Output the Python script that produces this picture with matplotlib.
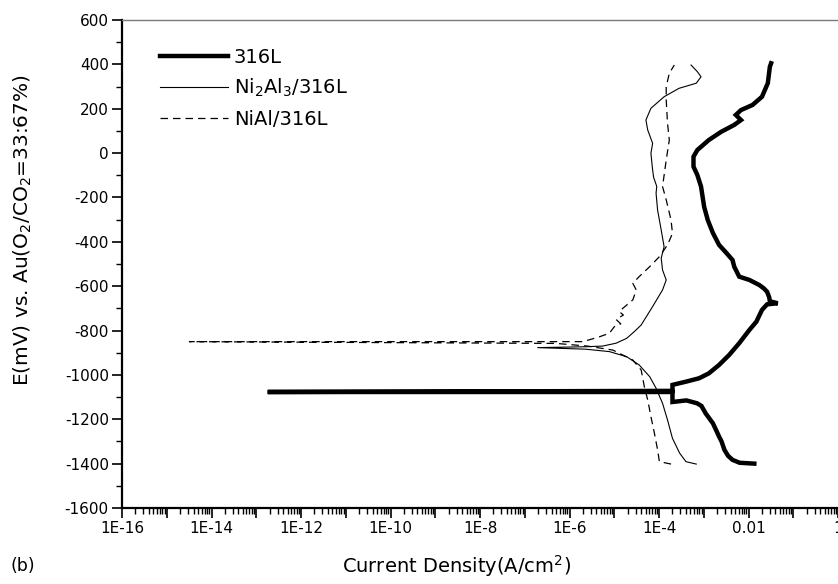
import numpy as np
import matplotlib
matplotlib.use("Agg")
import matplotlib.pyplot as plt
from matplotlib.ticker import FixedLocator, FuncFormatter, MultipleLocator, NullFormatter

plt.rcParams['font.family'] = ['DejaVu Sans']
plt.rcParams['axes.unicode_minus'] = False

# ---------------- data (E in mV, current density in A/cm2) ----------------
# 316L
E_316L = [-1400, -1396, -1383, -1365, -1338, -1300, -1278, -1250, -1218, -1173, -1140,
          -1128, -1115, -1122, -1077, -1077, -1072, -1045, -1030, -1015, -993, -955,
          -910, -857, -797, -760, -707, -682, -677, -668, -650, -625, -610, -595, -572,
          -557, -512, -482, -450, -414, -360, -302, -242, -151, -99, -61, -16, 14, 59,
          96, 127, 149, 172, 194, 217, 254, 315, 389, 405]
I_316L = [1.35e-2, 6.3e-3, 4.4e-3, 3.5e-3, 2.9e-3, 2.5e-3, 2.2e-3, 1.9e-3, 1.6e-3, 1.1e-3, 8.9e-4,
          7.1e-4, 4.1e-4, 2.0e-4, 2.0e-4, 1.8e-13, 2.0e-4, 2.0e-4, 4.1e-4, 7.9e-4, 1.3e-3, 2.2e-3,
          3.7e-3, 6.2e-3, 1.05e-2, 1.5e-2, 2.0e-2, 2.6e-2, 4.5e-2, 3.0e-2, 2.9e-2, 2.6e-2, 2.2e-2, 1.75e-2, 1.05e-2,
          6.2e-3, 4.8e-3, 4.4e-3, 3.2e-3, 2.2e-3, 1.6e-3, 1.23e-3, 1.02e-3, 8.7e-4, 7.2e-4, 5.9e-4, 5.9e-4, 7.2e-4, 1.3e-3,
          2.45e-3, 4.8e-3, 6.8e-3, 5.2e-3, 6.8e-3, 1.23e-2, 2.0e-2, 2.7e-2, 3.0e-2, 3.2e-2]

# Ni2Al3/316L
E_Ni2Al3 = [-1402, -1391, -1353, -1286, -1203, -1128, -1060, -1008, -955, -918, -895, -884,
            -877, -873, -870, -857, -835, -805, -775, -752, -692, -617, -572, -527, -474,
            -422, -347, -257, -181, -150, -110, -76, -1, 44, 104, 149, 202, 254, 292, 315,
            344, 367, 397]
I_Ni2Al3 = [6.8e-4, 4.0e-4, 2.9e-4, 2.0e-4, 1.55e-4, 1.2e-4, 8.6e-5, 6.2e-5, 3.6e-5, 1.9e-5, 7.8e-6, 2.3e-6,
            1.95e-7, 2.3e-6, 5.5e-6, 1.1e-5, 1.9e-5, 2.8e-5, 4.0e-5, 4.7e-5, 7.2e-5, 1.2e-4, 1.45e-4, 1.2e-4, 1.12e-4,
            1.3e-4, 1.12e-4, 9.3e-5, 8.6e-5, 8.9e-5, 7.6e-5, 7.2e-5, 6.6e-5, 7.2e-5, 5.6e-5, 5.1e-5, 6.6e-5, 1.3e-4, 2.8e-4, 6.8e-4,
            8.7e-4, 7.2e-4, 5.2e-4]

# NiAl/316L
E_NiAl = [-1402, -1391, -1338, -1263, -1188, -1113, -1053, -978, -933, -888, -870, -858,
          -850, -850, -828, -812, -783, -770, -750, -730, -715, -700, -662, -617, -587,
          -557, -512, -467, -414, -362, -302, -211, -151, -31, 59, 134, 239, 299, 360, 397]
I_NiAl = [1.86e-4, 1.02e-4, 9.3e-5, 7.9e-5, 6.6e-5, 5.6e-5, 4.7e-5, 4.0e-5, 2.6e-5, 9.3e-6, 2.5e-6, 5e-7,
          3.2e-15, 2.0e-6, 4.7e-6, 7.8e-6, 1.0e-5, 1.4e-5, 1.1e-5, 1.6e-5, 1.3e-5, 1.55e-5, 2.6e-5, 3.1e-5, 2.6e-5,
          3.6e-5, 6.2e-5, 1.02e-4, 1.55e-4, 2.0e-4, 1.86e-4, 1.45e-4, 1.2e-4, 1.45e-4, 1.7e-4, 1.55e-4, 1.45e-4, 1.45e-4, 1.7e-4, 2.2e-4]

labels = ['316L', 'Ni$\\mathregular{_2}$Al$\\mathregular{_3}$/316L', 'NiAl/316L']

# ---------------- figure ----------------
W, H = 838, 584
fig = plt.figure(figsize=(W / 100, H / 100), dpi=100)
ax = fig.add_axes([122 / W, 1 - 508 / H, (W - 122) / W, (508 - 20) / H])

ax.plot(I_316L, E_316L, color='black', lw=3.2, solid_joinstyle='miter', label=labels[0])
ax.plot(I_Ni2Al3, E_Ni2Al3, color='black', lw=0.8, label=labels[1])
ax.plot(I_NiAl, E_NiAl, color='black', lw=0.9, linestyle=(0, (6, 4)), label=labels[2])

ax.set_xscale('log')
ax.set_xlim(1e-16, 1)
ax.set_ylim(-1600, 600)

ax.xaxis.set_major_locator(FixedLocator([10.0 ** k for k in range(-16, 1)]))
def xfmt(v, pos):
    k = int(round(np.log10(v)))
    if k % 2:
        return ''
    if k == 0:
        return '1'
    if k == -2:
        return '0.01'
    return '1E%d' % k
ax.xaxis.set_major_formatter(FuncFormatter(xfmt))
ax.xaxis.set_minor_locator(FixedLocator([m * 10.0 ** k for k in range(-16, 0) for m in range(2, 10)]))
ax.xaxis.set_minor_formatter(NullFormatter())
ax.yaxis.set_major_locator(MultipleLocator(200))
ax.yaxis.set_minor_locator(MultipleLocator(100))

ax.tick_params(which='major', direction='out', length=7.5, width=1.2, labelsize=11, pad=2)
ax.tick_params(which='minor', direction='out', length=4, width=1.0)
ax.tick_params(top=False, right=False)

for s in ['left', 'bottom']:
    ax.spines[s].set_linewidth(1.6)
ax.spines['right'].set_visible(False)
ax.spines['top'].set_linewidth(1.0)
ax.spines['top'].set_color('#7a7a7a')

ax.set_xlabel('Current Density(A/cm$\\mathregular{^2}$)', fontsize=14)
ax.xaxis.set_label_coords((456 - 122) / (W - 122), -(566 - 508) / (508 - 20), transform=ax.transAxes)
ax.xaxis.label.set_va('center')
ax.set_ylabel('E(mV) vs. Au(O$\\mathregular{_2}$/CO$\\mathregular{_2}$=33:67%)', fontsize=14.5)
ax.yaxis.set_label_coords(-(122 - 23) / (W - 122), (508 - 230) / (508 - 20), transform=ax.transAxes)
ax.yaxis.label.set_va('center')

fig.text(10 / W, 1 - 566 / H, '(b)', fontsize=12.5, va='center', ha='left')

leg = ax.legend(loc='upper left', bbox_to_anchor=(160 / W, 1 - 48 / H),
                bbox_transform=fig.transFigure, frameon=False, fontsize=14,
                handlelength=3.5, handletextpad=0.3, labelspacing=0.52, borderpad=0,
                borderaxespad=0)

fig.savefig('out.png', dpi=100)
